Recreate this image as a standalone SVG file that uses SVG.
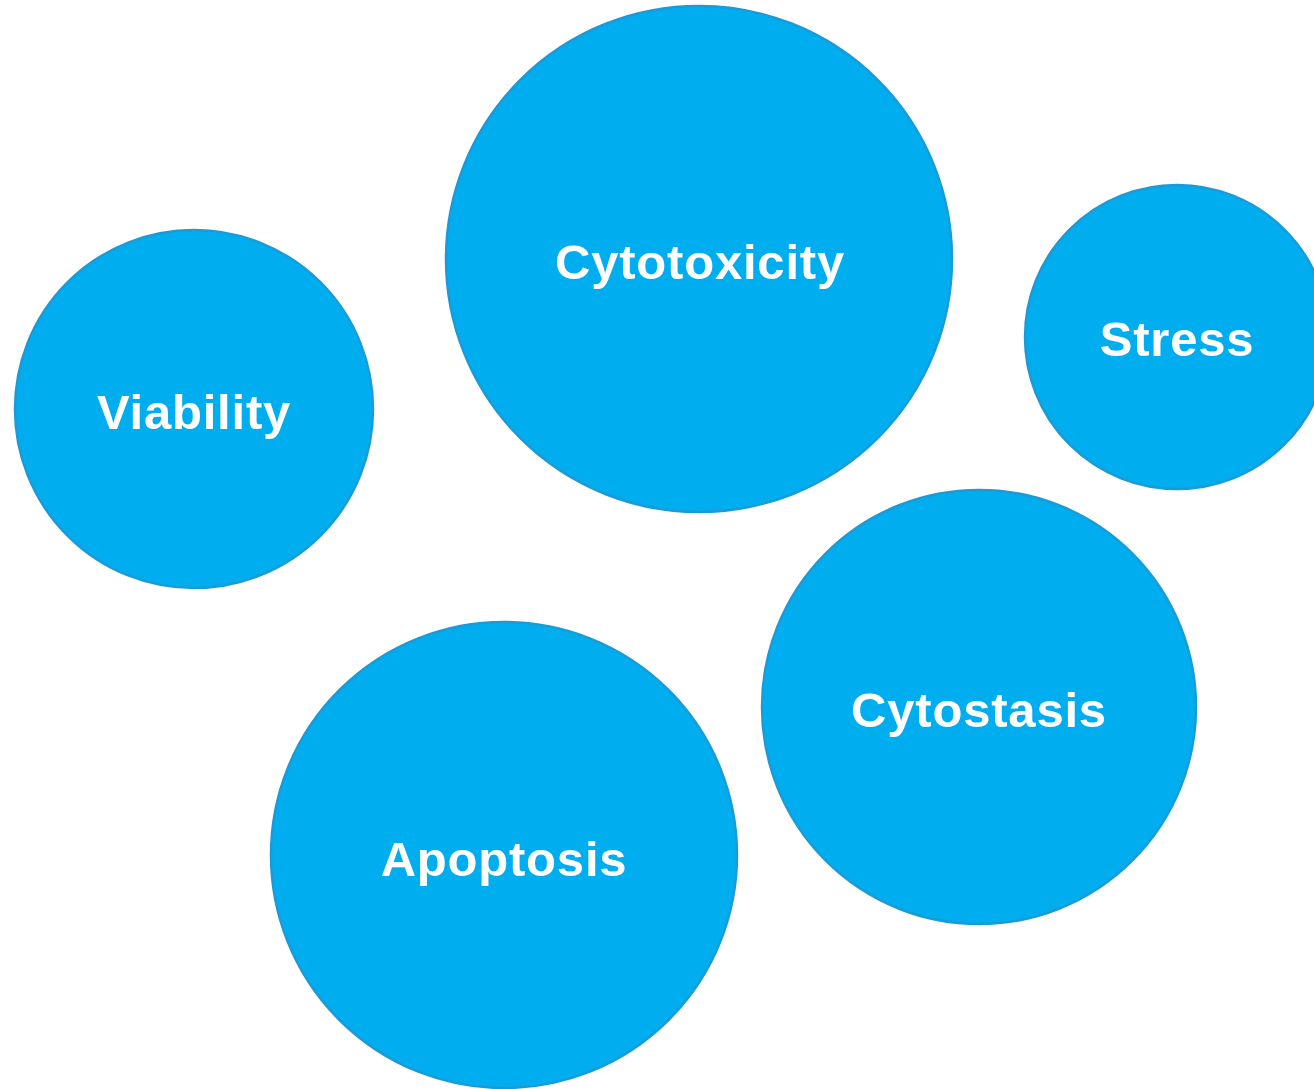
<svg xmlns="http://www.w3.org/2000/svg" width="1314" height="1089" viewBox="0 0 1314 1089">
<style>
.n{fill:#00AEEF;stroke:#1A9BD7;stroke-width:2.5}
.t{font-family:"Liberation Sans",Arial,sans-serif;font-weight:bold;font-size:49px;fill:#fff;text-anchor:middle;letter-spacing:0.8px}
</style>
<rect width="1314" height="1089" fill="#fff"/>
<g id="connectors"></g>
<g id="cytotoxicity"><circle class="n" cx="699" cy="259" r="253"/><text class="t" x="700" y="279">Cytotoxicity</text></g>
<g id="viability"><circle class="n" cx="194" cy="409" r="179"/><text class="t" x="194" y="429">Viability</text></g>
<g id="stress"><circle class="n" cx="1177" cy="337" r="152"/><text class="t" x="1177" y="356">Stress</text></g>
<g id="cytostasis"><circle class="n" cx="979" cy="707" r="217"/><text class="t" x="979" y="727">Cytostasis</text></g>
<g id="apoptosis"><circle class="n" cx="504" cy="855" r="233"/><text class="t" x="504" y="876">Apoptosis</text></g>
</svg>
